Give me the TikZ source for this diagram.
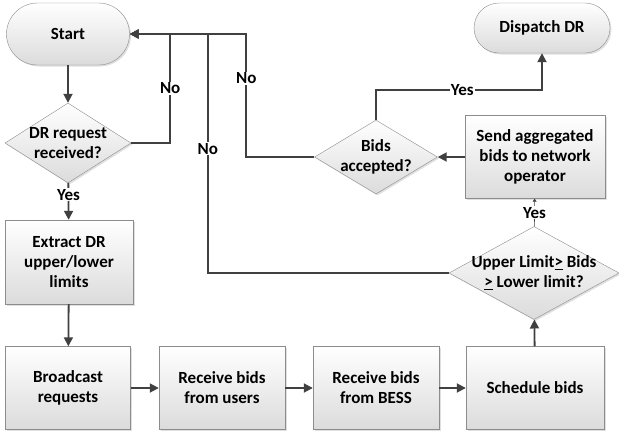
\documentclass[tikz,border=0pt]{standalone}
\usepackage{fontspec}
\setmainfont{Carlito}
\usetikzlibrary{arrows.meta, shapes.geometric, shapes.misc, shadows}

\definecolor{linegray}{HTML}{404040}
\definecolor{edgegray}{HTML}{8C8C8C}

\begin{document}
\begin{tikzpicture}[
    x=1pt, y=-1pt,
    txt/.style={font=\fontsize{17}{20}\selectfont\bfseries, align=center, text=black},
    boxfill/.style={draw=edgegray, top color=white, bottom color=gray!28,
                    drop shadow={opacity=0.25, shadow xshift=1.5pt, shadow yshift=-1.5pt}},
    proc/.style={boxfill, txt, rectangle, minimum width=126pt, minimum height=83pt, inner sep=2pt},
    term/.style={boxfill, txt, rounded rectangle, inner sep=2pt},
    decis/.style={boxfill, diamond, inner sep=0pt},
    arr/.style={-{Triangle[length=9pt, width=9pt]}, line width=1.8pt, linegray},
    tinyarr/.style={-{Triangle[length=3pt, width=4pt]}, line width=0.6pt, linegray},
    lbl/.style={txt, fill=white, inner sep=1pt}
]
\useasboundingbox (0,0) rectangle (619,437);

% ---- Terminals ----
\node[term, minimum width=127pt, minimum height=62pt] (start) at (68, 34) {Start};
\node[term, minimum width=140pt, minimum height=50pt] (disp) at (542, 28) {Dispatch DR};

% ---- Left column ----
\node[decis, minimum width=126pt, minimum height=80pt,
      label={[txt]center:DR request\\received?}] (dr) at (68, 143) {};
\node[proc, minimum width=128pt, minimum height=84pt] (ext) at (69, 262) {Extract DR\\upper/lower\\limits};

% ---- Bottom row ----
\node[proc, minimum width=125pt] (bc) at (68, 388) {Broadcast\\requests};
\node[proc] (usr) at (222, 388) {Receive bids\\from users};
\node[proc] (bess) at (376, 388) {Receive bids\\from BESS};
\node[proc, minimum width=138pt] (sch) at (535, 388) {Schedule bids};

% ---- Right column ----
\node[decis, minimum width=170pt, minimum height=93pt,
      label={[txt]center:Upper Limit\underline{>} Bids\\\underline{>} Lower limit?}] (lim) at (534, 273) {};
\node[proc, minimum width=140pt] (send) at (535, 157) {Send aggregated\\bids to network\\operator};
\node[decis, minimum width=123pt, minimum height=74pt,
      label={[txt]center:Bids\\accepted?}] (acc) at (376, 157) {};

% ---- Main flow ----
\draw[arr] (start) -- (dr);
\draw[arr] (dr) -- node[lbl, pos=0.32] {Yes} (ext);
\draw[arr] (ext) -- (bc);
\draw[arr] (bc) -- (usr);
\draw[arr] (usr) -- (bess);
\draw[arr] (bess) -- (sch);
\draw[arr] (sch) -- (lim);
\draw[tinyarr] (lim) -- node[lbl, pos=0.5] {Yes} (send);
\draw[arr] (send) -- (acc);
\draw[arr] (acc.north) -- ++(0,-30) -| node[lbl, pos=0.26] {Yes} (disp.south);

% ---- Loops back to start ----
\draw[arr] (dr.east) -- ++(39,0) |- node[lbl, pos=0.25] {No} (start.east);
\draw[arr] (lim.west) -- ++(-241,0) |- node[lbl, pos=0.26] {No} (start.east);
\draw[arr] (acc.west) -- ++(-68,0) |- node[lbl, pos=0.32] {No} (start.east);

\end{tikzpicture}
\end{document}
